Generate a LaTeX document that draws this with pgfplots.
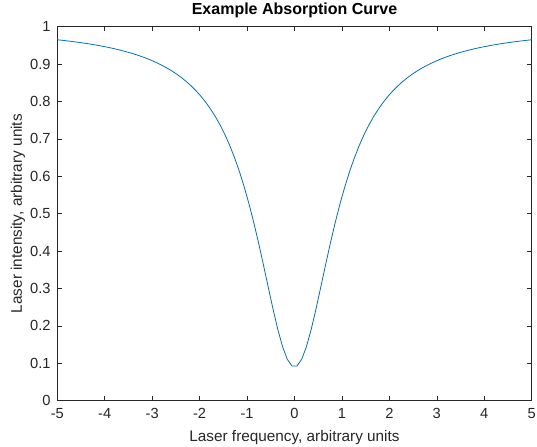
\documentclass[border=0pt]{standalone}
\usepackage{fontspec}
\setmainfont{Liberation Sans}
\usepackage{pgfplots}
\usepackage{pgfplotstable}
\pgfplotsset{compat=1.18}
\usetikzlibrary{calc}
\definecolor{mlblue}{rgb}{0,0.447,0.741}
\definecolor{axgray}{gray}{0.15}

% absorption curve, 100 samples from -5 to 5
\pgfplotstableread{
x y
-5.0000 0.9650
-4.8990 0.9636
-4.7980 0.9621
-4.6970 0.9605
-4.5960 0.9589
-4.4949 0.9571
-4.3939 0.9552
-4.2929 0.9532
-4.1919 0.9510
-4.0909 0.9487
-3.9899 0.9462
-3.8889 0.9436
-3.7879 0.9407
-3.6869 0.9376
-3.5859 0.9343
-3.4848 0.9308
-3.3838 0.9269
-3.2828 0.9227
-3.1818 0.9182
-3.0808 0.9133
-2.9798 0.9079
-2.8788 0.9020
-2.7778 0.8956
-2.6768 0.8885
-2.5758 0.8808
-2.4747 0.8723
-2.3737 0.8628
-2.2727 0.8524
-2.1717 0.8408
-2.0707 0.8279
-1.9697 0.8135
-1.8687 0.7974
-1.7677 0.7794
-1.6667 0.7591
-1.5657 0.7363
-1.4646 0.7107
-1.3636 0.6818
-1.2626 0.6492
-1.1616 0.6127
-1.0606 0.5717
-0.9596 0.5262
-0.8586 0.4762
-0.7576 0.4218
-0.6566 0.3641
-0.5556 0.3046
-0.4545 0.2458
-0.3535 0.1911
-0.2525 0.1446
-0.1515 0.1104
-0.0505 0.0923
0.0505 0.0923
0.1515 0.1104
0.2525 0.1446
0.3535 0.1911
0.4545 0.2458
0.5556 0.3046
0.6566 0.3641
0.7576 0.4218
0.8586 0.4762
0.9596 0.5262
1.0606 0.5717
1.1616 0.6127
1.2626 0.6492
1.3636 0.6818
1.4646 0.7107
1.5657 0.7363
1.6667 0.7591
1.7677 0.7794
1.8687 0.7974
1.9697 0.8135
2.0707 0.8279
2.1717 0.8408
2.2727 0.8524
2.3737 0.8628
2.4747 0.8723
2.5758 0.8808
2.6768 0.8885
2.7778 0.8956
2.8788 0.9020
2.9798 0.9079
3.0808 0.9133
3.1818 0.9182
3.2828 0.9227
3.3838 0.9269
3.4848 0.9308
3.5859 0.9343
3.6869 0.9376
3.7879 0.9407
3.8889 0.9436
3.9899 0.9462
4.0909 0.9487
4.1919 0.9510
4.2929 0.9532
4.3939 0.9552
4.4949 0.9571
4.5960 0.9589
4.6970 0.9605
4.7980 0.9621
4.8990 0.9636
5.0000 0.9650
}\curve

\begin{document}
\begin{tikzpicture}
\begin{axis}[
  name=ax,
  scale only axis,
  width=355.8pt, height=280.5pt,
  xmin=-5, xmax=5, ymin=0, ymax=1,
  xtick={-5,-4,...,5},
  ytick={0,0.1,...,1},
  yticklabels={0,0.1,0.2,0.3,0.4,0.5,0.6,0.7,0.8,0.9,1},
  tick align=inside,
  major tick length=3.6pt,
  axis line style={axgray, line width=0.4pt},
  every tick/.style={axgray, line width=0.4pt},
  tick label style={font=\fontsize{11}{13}\selectfont, text=axgray},
  xticklabel style={yshift=-2.5pt},
  yticklabel style={xshift=-1.5pt},
  /pgf/number format/assume math mode=true,
  title={Example Absorption Curve},
  xlabel={Laser frequency, arbitrary units},
  ylabel={Laser intensity, arbitrary units},
  every axis title/.style={at={(axis description cs:0.5,1)}, yshift=12.5pt, anchor=center, font=\bfseries\fontsize{12}{14}\selectfont},
  every axis x label/.style={at={(axis description cs:0.5,0)}, yshift=-27.7pt, anchor=center, font=\fontsize{11.5}{13}\selectfont, text=axgray},
  every axis y label/.style={at={(axis description cs:0,0.5)}, xshift=-29.5pt, rotate=90, anchor=center, font=\fontsize{11.5}{13}\selectfont, text=axgray},
]
\addplot[mlblue, line width=0.6pt, no markers] table[x=x, y=y] {\curve};
\end{axis}
\pgfresetboundingbox
\path[use as bounding box] ($(ax.south west)+(-43pt,-34.7pt)$) rectangle ($(ax.north east)+(4pt,20pt)$);
\end{tikzpicture}
\end{document}
